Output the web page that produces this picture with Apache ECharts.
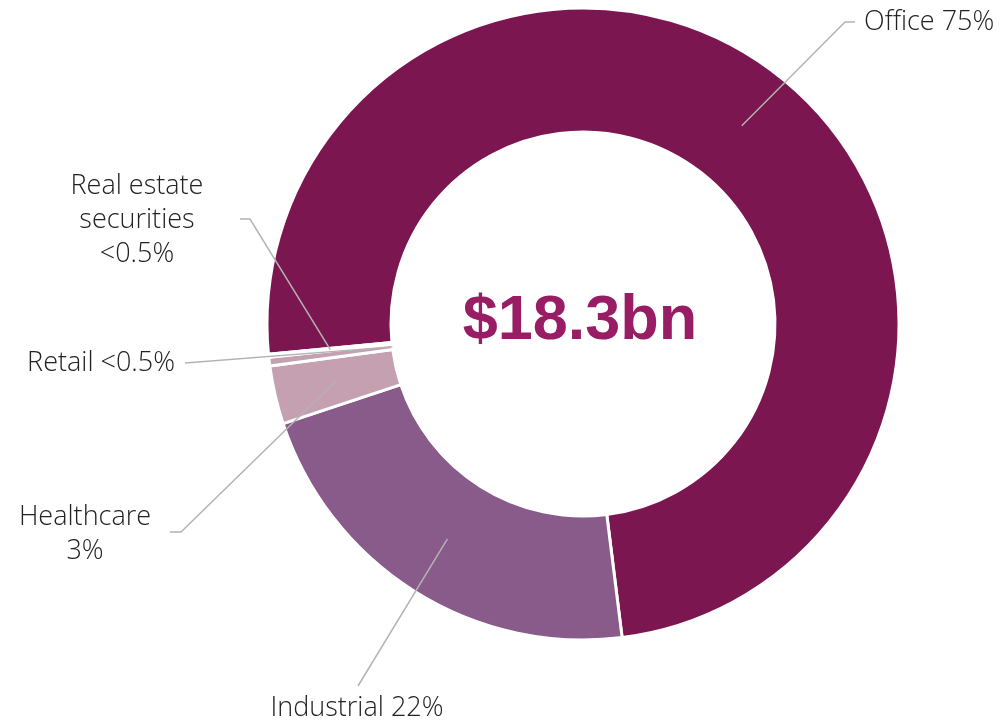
<!DOCTYPE html>
<html>
<head>
<meta charset="utf-8">
<script src="https://cdn.jsdelivr.net/npm/echarts@6/dist/echarts.min.js"></script>
<style>
  html, body { margin: 0; padding: 0; background: #ffffff; }
  #chart { width: 1008px; height: 725px; }
</style>
</head>
<body>
<div id="chart"></div>
<script>
// Portfolio split by sector (percent of $18.3bn)
const categories = ['Office', 'Industrial', 'Healthcare', 'Retail', 'Real estate\nsecurities'];
const shares = [75, 22, 3, 0.45, 0.15];
const sliceColors = ['#7b1650', '#885b8a', '#c4a0b0', '#c4a0b0', '#d8c0cc'];
const totalText = '$18.3bn';

// Label boxes and leader-line bends, per slice (same order as categories)
const labelPlacement = [
  { x: 864, y: 22,  align: 'left',   bend: [845, 22],  end: [855, 22],  anchor: 0.5 },
  { x: 357, y: 708, align: 'center', bend: null,       end: [358, 686], anchor: 0.5 },
  { x: 85,  y: 534, align: 'center', bend: [181, 532], end: [170, 532], anchor: 0.5 },
  { x: 175, y: 363, align: 'right',  bend: null,       end: [185, 363], anchor: 0.0 },
  { x: 137, y: 220, align: 'center', bend: [250, 219], end: [240, 219], anchor: 0.5 }
];

const ring = { center: [583, 324], radius: [192, 316], startAngle: 185.5 };

const chart = echarts.init(document.getElementById('chart'), null, { renderer: 'canvas' });

function shareText(v) {
  return v < 0.5 ? '<0.5%' : v + '%';
}

function labelText(i) {
  const name = categories[i];
  if (name === 'Healthcare' || name.indexOf('\n') >= 0) return name + '\n' + shareText(shares[i]);
  return name + ' ' + shareText(shares[i]);
}

// Point inside a slice (mid angle) taken from the pie layout of the label series
function sliceAnchor(i) {
  const data = chart.getModel().getSeriesByIndex(1).getData();
  const L = data.getItemLayout(i);
  const mid = (L.startAngle + L.endAngle) / 2;
  const r = L.r0 + (L.r - L.r0) * labelPlacement[i].anchor;
  return [L.cx + r * Math.cos(mid), L.cy + r * Math.sin(mid)];
}

const sliceData = categories.map((name, i) => ({
  name: name,
  value: shares[i],
  itemStyle: { color: sliceColors[i] }
}));

chart.setOption({
  animation: false,
  graphic: [{
    type: 'text',
    x: 580,
    y: 322,
    z: 10,
    style: {
      text: totalText,
      align: 'center',
      verticalAlign: 'middle',
      fontFamily: '"Liberation Sans", Arial, sans-serif',
      fontWeight: 'bold',
      fontSize: 63,
      fill: '#981d64'
    }
  }],
  series: [
    {
      // coloured ring
      type: 'pie',
      z: 2,
      center: ring.center,
      radius: ring.radius,
      startAngle: ring.startAngle,
      clockwise: true,
      silent: true,
      emphasis: { disabled: true },
      itemStyle: { borderColor: '#ffffff', borderWidth: 3 },
      label: { show: false },
      labelLine: { show: false },
      data: sliceData
    },
    {
      // same ring, transparent, carrying labels and leader lines above the slices
      type: 'pie',
      z: 3,
      center: ring.center,
      radius: ring.radius,
      startAngle: ring.startAngle,
      clockwise: true,
      silent: true,
      avoidLabelOverlap: false,
      emphasis: { disabled: true },
      itemStyle: { color: 'rgba(0,0,0,0)', borderWidth: 0 },
      label: {
        show: true,
        position: 'outside',
        formatter: p => labelText(p.dataIndex),
        fontFamily: '"Open Sans", sans-serif',
        fontWeight: 300,
        fontSize: 27,
        lineHeight: 34,
        color: '#222222'
      },
      labelLine: {
        show: true,
        lineStyle: { color: '#b3b3b3', width: 1.5 }
      },
      labelLayout: function (params) {
        const i = params.dataIndex;
        const cfg = labelPlacement[i];
        const a = sliceAnchor(i);
        const pts = cfg.bend ? [a, cfg.bend, cfg.end] : [a, cfg.end, cfg.end];
        return {
          x: cfg.x,
          y: cfg.y,
          align: cfg.align,
          verticalAlign: 'middle',
          labelLinePoints: pts
        };
      },
      data: categories.map((name, i) => ({ name: name, value: shares[i] }))
    }
  ]
});
</script>
</body>
</html>
